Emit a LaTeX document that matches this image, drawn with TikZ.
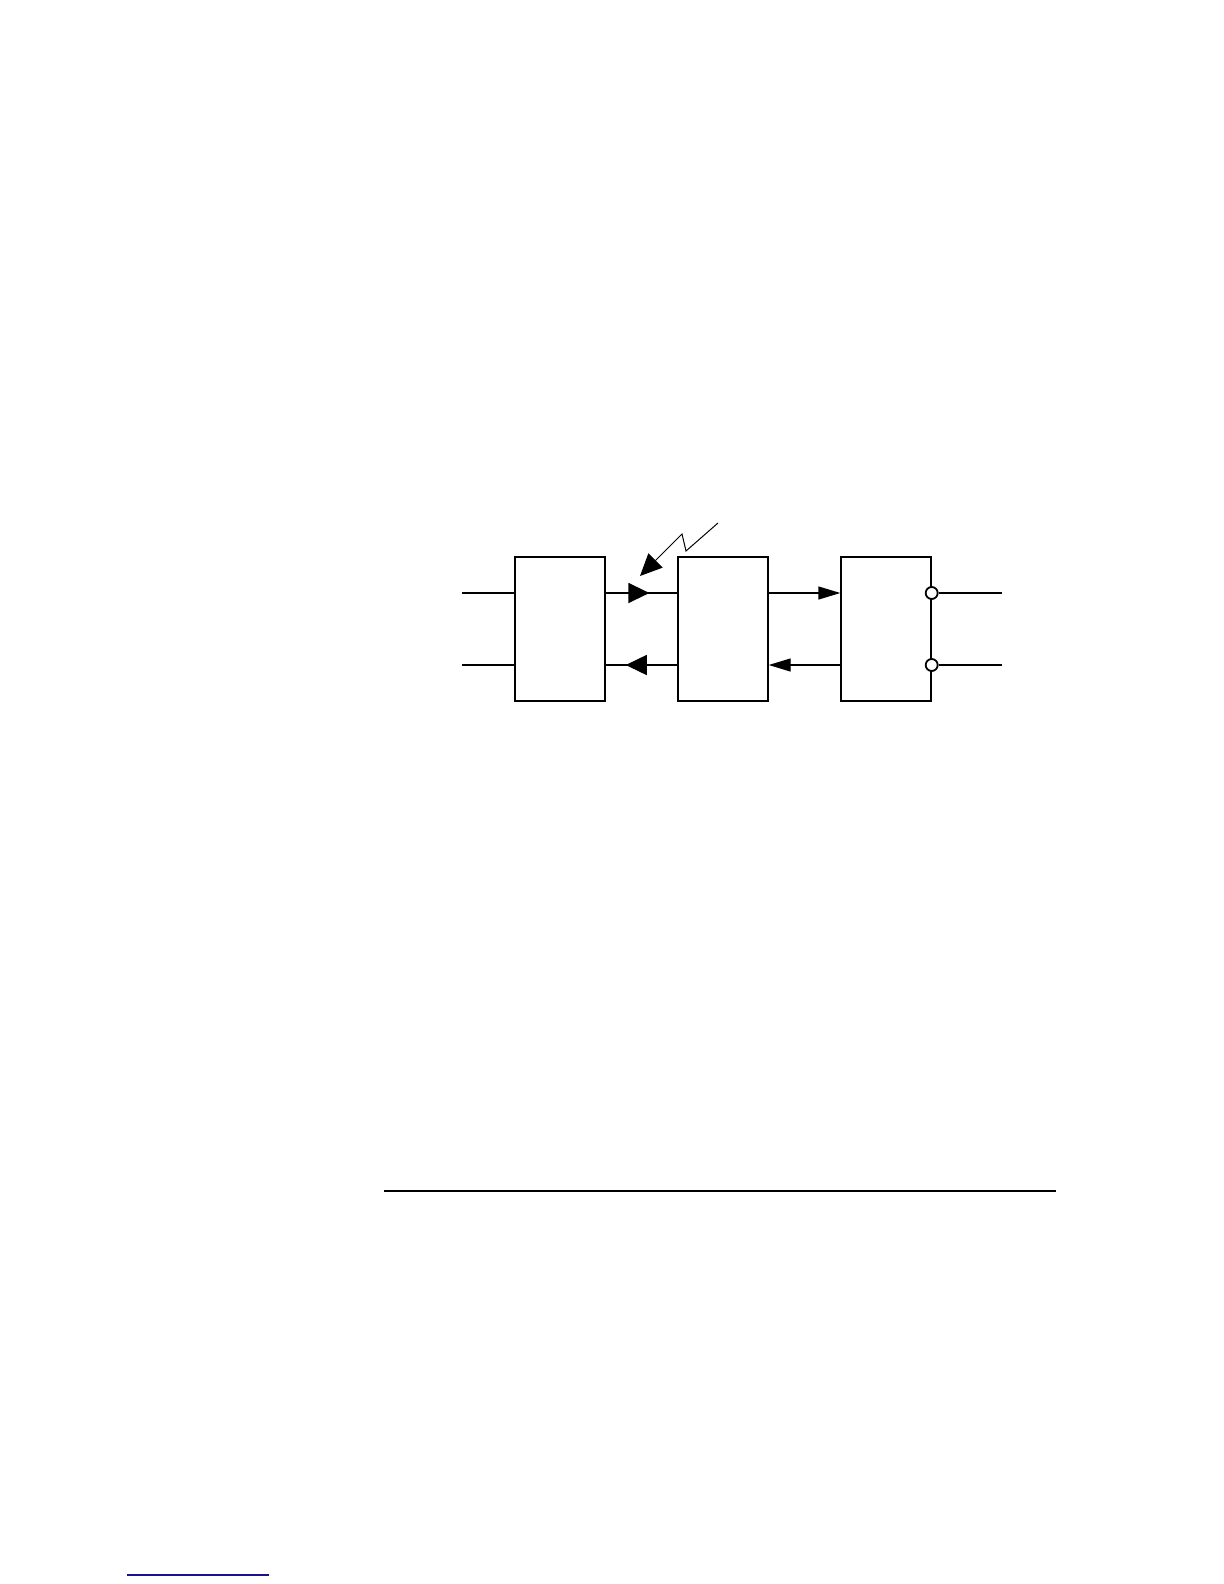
\documentclass[tikz,border=0pt]{standalone}
\usepackage{tikz}
\usetikzlibrary{matrix,arrows.meta,decorations.markings}
\definecolor{linkblue}{RGB}{20,20,140}

\begin{document}
\begin{tikzpicture}[x=0.5pt,y=-0.5pt,
	blk/.style={draw,line width=0.7pt,minimum width=45pt,minimum height=72pt,inner sep=0pt},
	port/.style={draw,circle,line width=0.9pt,fill=white,minimum size=6pt,inner sep=0pt},
	wire/.style={line width=0.7pt},
	tip/.style={-{Triangle[length=11pt,width=6.5pt]}},
	midtip/.style={postaction={decorate},decoration={markings,
		mark=at position #1 with {\arrow{Triangle[length=10.5pt,width=10pt]}}}}]
	\useasboundingbox (0,0) rectangle (1224,1584);
	\matrix(m)[matrix of nodes, nodes in empty cells, column sep=35.8pt, nodes={blk}] at (723,629)
	{ & & \\};
	\coordinate (in1) at (462,593);
	\coordinate (in2) at (462,665);
	\coordinate (out1) at (1002,593);
	\coordinate (out2) at (1002,665);
	\coordinate (zap) at (718,523);
	\coordinate (zap1) at (686,551);
	\coordinate (zap2) at (682,534);
	\coordinate (hit) at (640,576);
	\path[wire]
	(in1) edge ([yshift=18pt]m-1-1.west)
	(in2) edge ([yshift=-18pt]m-1-1.west);
	\draw[wire,midtip=0.61] ([yshift=18pt]m-1-1.east) -- ([yshift=18pt]m-1-2.west);
	\draw[wire,midtip=0.72] ([yshift=-18pt]m-1-2.west) -- ([yshift=-18pt]m-1-1.east);
	\draw[wire,tip] ([yshift=18pt]m-1-2.east) -- ([yshift=18pt]m-1-3.west);
	\draw[wire,tip] ([yshift=-18pt]m-1-3.west) -- ([yshift=-18pt]m-1-2.east);
	\node[port] (o1) at ([yshift=18pt]m-1-3.east) {};
	\node[port] (o2) at ([yshift=-18pt]m-1-3.east) {};
	\draw[wire] (o1) -- (out1) (o2) -- (out2);
	\draw[line width=0.5pt,-{Triangle[length=11pt,width=10pt]}] (zap) -- (zap1) -- (zap2) -- (hit);
	\draw[line width=0.8pt] (384,1191) -- (1056,1191);
	\draw[linkblue,line width=0.8pt] (127,1575) -- (269,1575);
\end{tikzpicture}
\end{document}
